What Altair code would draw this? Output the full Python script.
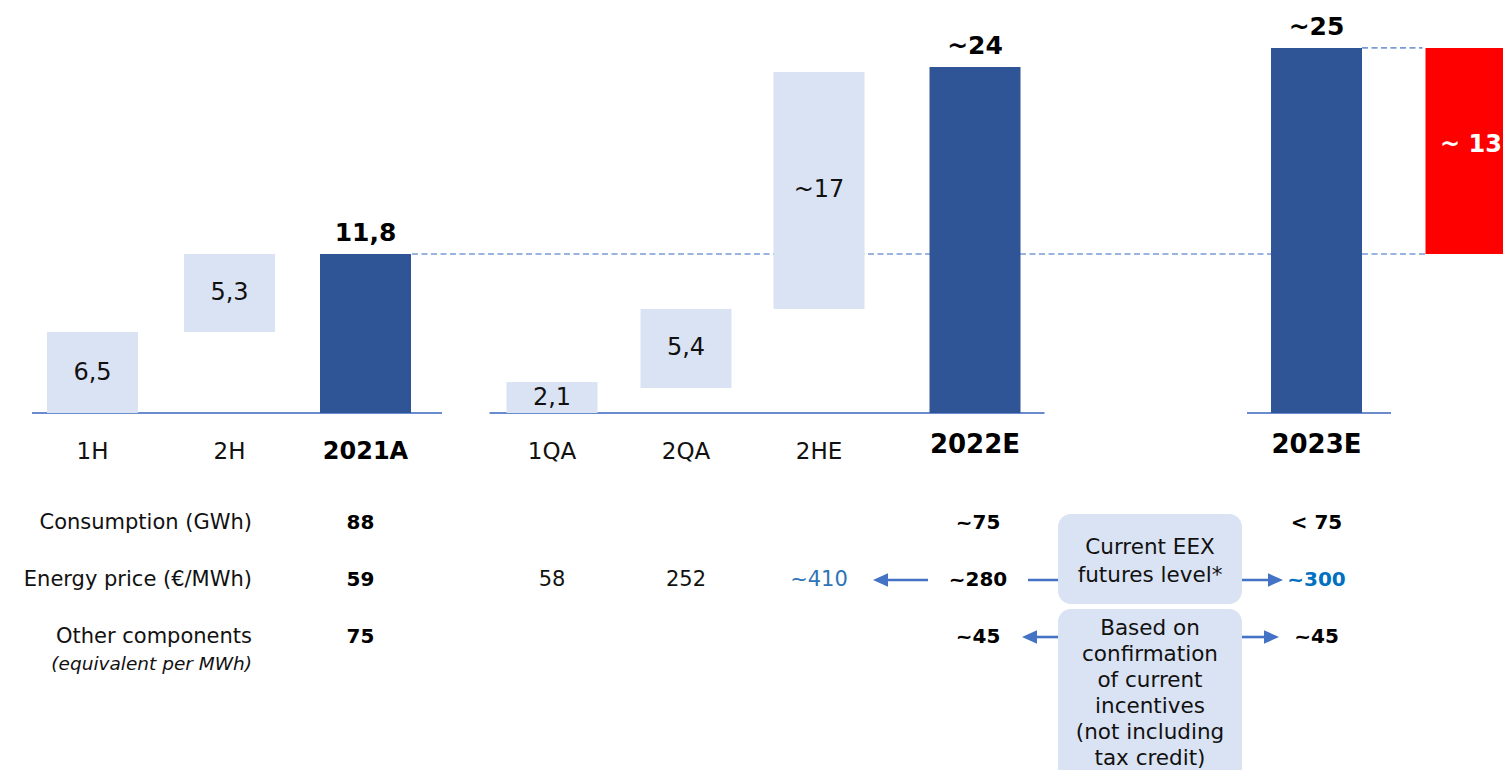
import altair as alt
import pandas as pd

# ---------------- data ----------------
categories = ["1H", "2H", "2021A", "1QA", "2QA", "2HE", "2022E", "2023E", "Gap"]
bar_kind = ["step", "step", "total", "step", "step", "step", "total", "total", "gap"]
bar_start = [0.0, 6.01, 0.0, 0.0, 1.86, 7.72, 0.0, 0.0, 11.8]
bar_end = [6.01, 11.8, 11.8, 2.30, 7.72, 25.31, 25.68, 27.09, 27.09]
bar_labels = ["6,5", "5,3", "11,8", "2,1", "5,4", "~17", "~24", "~25", "~ 13"]
axis_labels = ["1H", "2H", "2021A", "1QA", "2QA", "2HE", "2022E", "2023E", ""]

row_names = ["Consumption (GWh)", "Energy price (€/MWh)", "Other components"]
row_note = "(equivalent per MWh)"
cell_category = ["2021A", "2022E", "2023E",
                 "2021A", "1QA", "2QA", "2HE", "2022E", "2023E",
                 "2021A", "2022E", "2023E"]
cell_row = [0, 0, 0, 1, 1, 1, 1, 1, 1, 2, 2, 2]
cell_text = ["88", "~75", "< 75",
             "59", "58", "252", "~410", "~280", "~300",
             "75", "~45", "~45"]
cell_style = ["bold", "bold", "bold",
              "bold", "plain", "plain", "blue", "bold", "bluebold",
              "bold", "bold", "bold"]

box1_lines = ["Current EEX", "futures level*"]
box2_lines = ["Based on", "confirmation", "of current", "incentives",
              "(not including", "tax credit)"]

# ---------------- layout ----------------
FONT = "DejaVu Sans"
W, H = 1495, 762
x_pos = dict(zip(categories, [92.5, 229.5, 365.5, 552, 686, 819, 975, 1316.5, 1471]))
BAR_HALF = 45.5
XS = alt.Scale(domain=[8, 8 + W], nice=False, zero=False)
YB = alt.Scale(domain=[-26.494, 30.056], nice=False, zero=False)          # bar units
YT = alt.Scale(domain=[-9.035, 4.333], reverse=True, nice=False, zero=False)  # table rows

DARK, LIGHT, RED = "#2F5597", "#DAE3F3", "#FF0000"
LINE = "#4472C4"

bars = pd.DataFrame({"cat": categories, "kind": bar_kind,
                     "start": bar_start, "end": bar_end, "t": bar_labels,
                     "axis": axis_labels})
bars["x"] = bars["cat"].map(x_pos)
bars["left"] = bars["x"] - BAR_HALF
bars["right"] = bars["x"] + BAR_HALF
bars["mid"] = (bars["start"] + bars["end"]) / 2


def X(field="x"):
    return alt.X(f"{field}:Q", scale=XS, axis=None)


def text_layer(df, yscale, ycol="y", **kw):
    return alt.Chart(df).mark_text(font=FONT, **kw).encode(
        x=X("x"), y=alt.Y(f"{ycol}:Q", scale=yscale, axis=None), text="t:N")


# baselines (one per group)
base_df = pd.DataFrame({
    "x": [x_pos["1H"] - BAR_HALF - 15, x_pos["1QA"] - BAR_HALF - 17,
          x_pos["2023E"] - BAR_HALF - 24],
    "x2": [x_pos["2021A"] + BAR_HALF + 31, x_pos["2022E"] + BAR_HALF + 24,
           x_pos["2023E"] + BAR_HALF + 29],
    "y": [0.0, 0.0, 0.0]})
baselines = alt.Chart(base_df).mark_rule(color="#6A8CCF", strokeWidth=2).encode(
    x=X("x"), x2="x2:Q", y=alt.Y("y:Q", scale=YB, axis=None))

# dashed reference levels
lvl_2021 = bar_end[categories.index("2021A")]
lvl_2023 = bar_end[categories.index("2023E")]
dash_df = pd.DataFrame({
    "x": [x_pos["2021A"] + BAR_HALF + 1, x_pos["2023E"] + BAR_HALF],
    "x2": [x_pos["Gap"] - BAR_HALF, x_pos["Gap"] - BAR_HALF - 3],
    "y": [lvl_2021, lvl_2023]})
dashes = alt.Chart(dash_df).mark_rule(color="#7A9AD6", strokeWidth=1.7,
                                      strokeDash=[6, 3.5]).encode(
    x=X("x"), x2="x2:Q", y=alt.Y("y:Q", scale=YB, axis=None))

rects = alt.Chart(bars).mark_rect().encode(
    x=X("left"), x2="right:Q",
    y=alt.Y("start:Q", scale=YB, axis=None), y2="end:Q",
    color=alt.Color("kind:N", scale=alt.Scale(domain=["step", "total", "gap"],
                                              range=[LIGHT, DARK, RED]), legend=None))

step_lbl = text_layer(bars[bars["kind"] == "step"], YB, ycol="mid", fontSize=24,
                      color="#111111", baseline="middle")
tot_lbl = text_layer(bars[bars["kind"] == "total"], YB, ycol="end", fontSize=25,
                     fontWeight="bold", color="#000000", baseline="middle", dy=-21)
gap_lbl = text_layer(bars[bars["kind"] == "gap"], YB, ycol="mid", fontSize=24,
                     fontWeight="bold", color="#FFFFFF", baseline="middle", dy=-6)

cat_df = bars[bars["axis"] != ""].copy()
cat_df["t"] = cat_df["axis"]
cat_df["y"] = 0.0
cat_plain = text_layer(cat_df[cat_df["kind"] == "step"], YB, fontSize=23,
                       color="#111111", baseline="middle", dy=39)
cat_b1 = text_layer(cat_df[cat_df["cat"] == "2021A"], YB, fontSize=24,
                    fontWeight="bold", color="#000000", baseline="middle", dy=39)
cat_b2 = text_layer(cat_df[cat_df["cat"].isin(["2022E", "2023E"])], YB, fontSize=26,
                    fontWeight="bold", color="#000000", baseline="middle", dy=32)

top = alt.layer(dashes, baselines, rects, step_lbl, tot_lbl, gap_lbl,
                cat_plain, cat_b1, cat_b2)

# ---------------- table ----------------
ROW_LABEL_RIGHT = 252
rl_df = pd.DataFrame({"x": [ROW_LABEL_RIGHT] * 3, "y": [0, 1, 2], "t": row_names})
row_lbl = text_layer(rl_df, YT, fontSize=21, color="#111111",
                     align="right", baseline="middle")
note_df = pd.DataFrame({"x": [ROW_LABEL_RIGHT], "y": [2.47], "t": [row_note]})
note_lbl = text_layer(note_df, YT, fontSize=18.5, fontStyle="italic",
                      color="#111111", align="right", baseline="middle")

cells = pd.DataFrame({"cat": cell_category, "y": cell_row, "t": cell_text,
                      "sty": cell_style})
cells["x"] = cells["cat"].map(x_pos)
cells.loc[cells["cat"] == "2021A", "x"] -= 5
cells.loc[cells["cat"] == "2022E", "x"] += 3
c_bold = text_layer(cells[cells["sty"] == "bold"], YT, fontSize=20,
                    fontWeight="bold", color="#000000", baseline="middle")
c_plain = text_layer(cells[cells["sty"] == "plain"], YT, fontSize=21,
                     color="#111111", baseline="middle")
c_blue = text_layer(cells[cells["sty"] == "blue"], YT, fontSize=21,
                    color="#2E75B6", baseline="middle")
c_bluebold = text_layer(cells[cells["sty"] == "bluebold"], YT, fontSize=20,
                        fontWeight="bold", color="#0070C0", baseline="middle")

# boxes
BOX_L, BOX_R = 1058, 1242
box_df = pd.DataFrame({"x": [BOX_L, BOX_L], "x2": [BOX_R, BOX_R],
                       "y": [-0.16, 1.51], "y2": [1.42, 5.0]})
boxes = alt.Chart(box_df).mark_rect(color=LIGHT, cornerRadius=13).encode(
    x=X("x"), x2="x2:Q", y=alt.Y("y:Q", scale=YT, axis=None), y2="y2:Q")
box_cx = (BOX_L + BOX_R) / 2
bt_df = pd.DataFrame({
    "x": [box_cx] * (len(box1_lines) + len(box2_lines)),
    "y": [0.44, 0.93, 1.86, 2.316, 2.772, 3.228, 3.684, 4.14],
    "t": box1_lines + box2_lines})
box_txt = text_layer(bt_df, YT, fontSize=21.5, color="#111111",
                     baseline="middle")

# arrows
arrow_from = [928, BOX_R, BOX_L, BOX_R]
arrow_tip = [873, 1283, 1022, 1279]
arrow_row = [1, 1, 2, 2]
ar = pd.DataFrame({"x": arrow_from, "tip": arrow_tip, "y": arrow_row})
ar["dir"] = (ar["tip"] - ar["x"]).apply(lambda v: 1 if v > 0 else -1)
ar["x2"] = ar["tip"] - ar["dir"] * 8
ar["shape"] = ar["dir"].map({-1: "M0,0L2,-0.9L2,0.9Z", 1: "M0,0L-2,-0.9L-2,0.9Z"})
conn = pd.DataFrame({"x": [1028], "x2": [box_cx], "y": [1]})
arrow_lines = alt.Chart(pd.concat([ar[["x", "x2", "y"]], conn])).mark_rule(
    color=LINE, strokeWidth=2.6).encode(
    x=X("x"), x2="x2:Q", y=alt.Y("y:Q", scale=YT, axis=None))
arrow_heads = alt.Chart(ar).mark_point(filled=True, size=225, color=LINE,
                                       opacity=1, strokeWidth=0).encode(
    x=X("tip"), y=alt.Y("y:Q", scale=YT, axis=None),
    shape=alt.Shape("shape:N", scale=None))

bottom = alt.layer(arrow_lines, arrow_heads, boxes, box_txt, row_lbl, note_lbl,
                   c_bold, c_plain, c_blue, c_bluebold)

chart = alt.layer(top, bottom).resolve_scale(y="independent").properties(
    width=W, height=H, padding=0,
    autosize=alt.AutoSizeParams(type="none"),
    background="white",
).configure_view(stroke=None)

chart.save("out.html", embed_options={"renderer": "svg", "actions": False})
